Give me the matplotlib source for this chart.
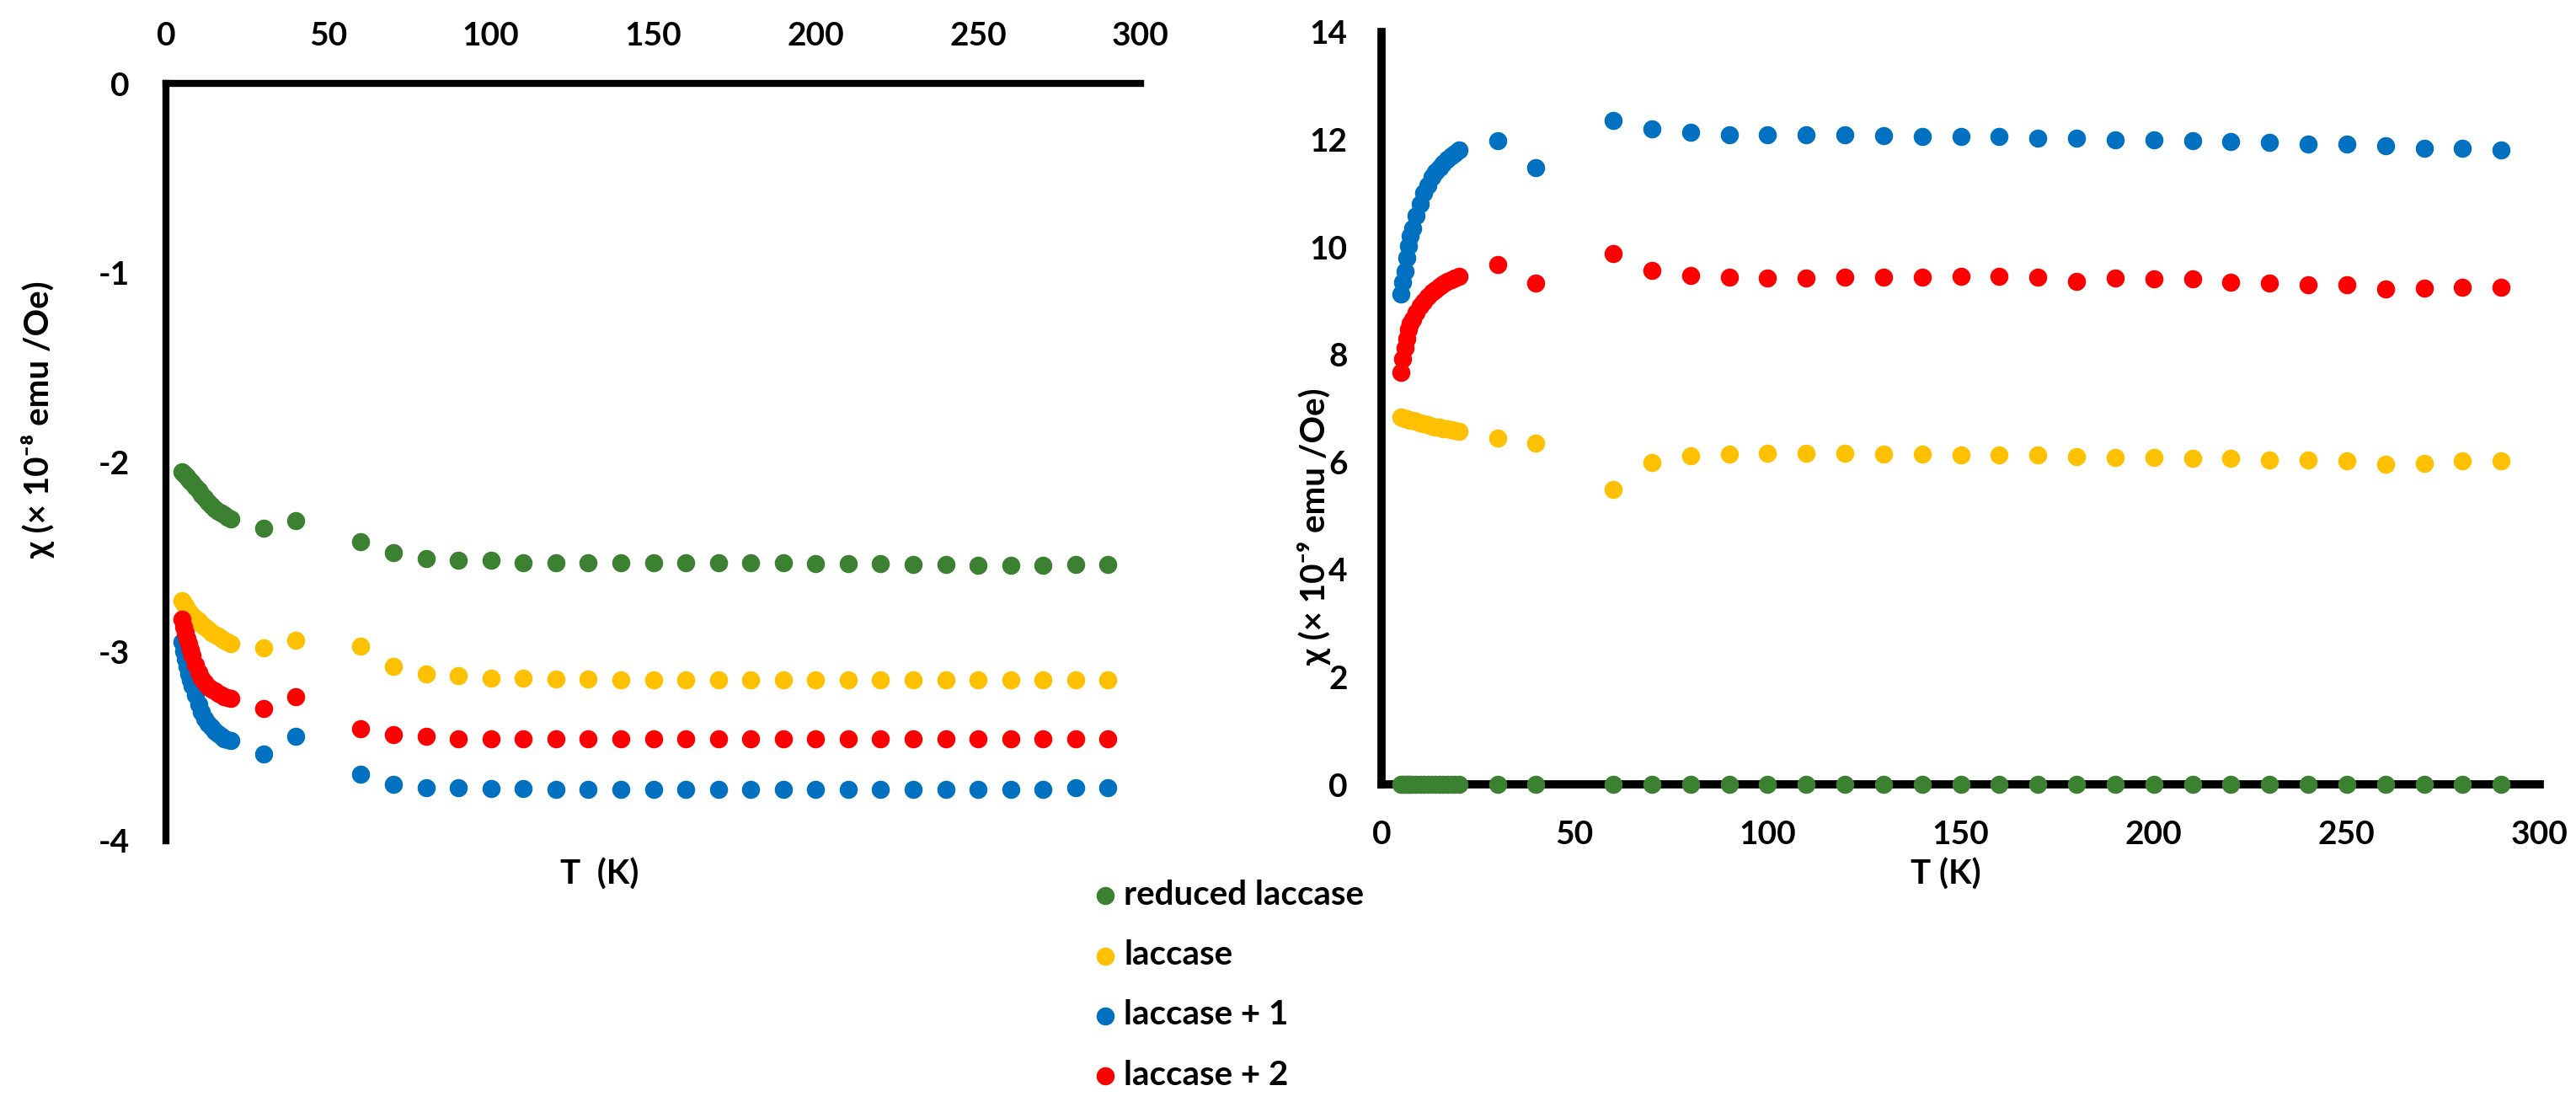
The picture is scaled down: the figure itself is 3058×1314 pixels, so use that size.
import matplotlib
matplotlib.use('Agg')
import matplotlib.pyplot as plt

plt.rcParams['font.family'] = ['Lato', 'DejaVu Sans']
plt.rcParams['font.weight'] = 'bold'
plt.rcParams['axes.unicode_minus'] = False

# temperatures (K): dense sweep 5-20 K, then 30, 40, 60 ... 290
T = [5, 5.5, 6, 6.5, 7, 7.5, 8, 9, 10, 11, 12, 13, 14, 15, 16, 17, 18, 19, 20,
     30, 40,
     60, 70, 80, 90, 100, 110, 120, 130, 140, 150, 160, 170, 180, 190,
     200, 210, 220, 230, 240, 250, 260, 270, 280, 290]

labels = ['reduced laccase', 'laccase', 'laccase + 1', 'laccase + 2']
colors = ['#3C8031', '#FFC000', '#0070C0', '#FF0000']

# left panel, chi in 1e-8 emu/Oe
reduced_L = [-2.05, -2.06, -2.07, -2.08, -2.09, -2.10, -2.11, -2.13, -2.15, -2.17,
             -2.19, -2.21, -2.23, -2.245, -2.26, -2.27, -2.28, -2.29, -2.30,
             -2.35, -2.31,
             -2.42, -2.48, -2.51, -2.52, -2.52, -2.53, -2.53, -2.53, -2.53, -2.53,
             -2.53, -2.53, -2.53, -2.53, -2.535, -2.535, -2.535, -2.54, -2.54,
             -2.545, -2.545, -2.545, -2.54, -2.54]
laccase_L = [-2.73, -2.745, -2.76, -2.775, -2.79, -2.80, -2.81, -2.825, -2.84, -2.855,
             -2.87, -2.885, -2.90, -2.91, -2.92, -2.93, -2.94, -2.95, -2.96,
             -2.98, -2.94,
             -2.97, -3.08, -3.12, -3.13, -3.14, -3.14, -3.145, -3.145, -3.15, -3.15,
             -3.15, -3.15, -3.15, -3.15, -3.15, -3.15, -3.15, -3.15, -3.15,
             -3.15, -3.15, -3.15, -3.15, -3.15]
plus1_L = [-2.95, -3.00, -3.04, -3.08, -3.12, -3.15, -3.18, -3.23, -3.28, -3.32,
           -3.355, -3.38, -3.40, -3.42, -3.435, -3.45, -3.46, -3.465, -3.47,
           -3.54, -3.45,
           -3.65, -3.70, -3.72, -3.72, -3.725, -3.725, -3.73, -3.73, -3.73, -3.73,
           -3.73, -3.73, -3.73, -3.73, -3.73, -3.73, -3.73, -3.73, -3.73,
           -3.73, -3.73, -3.73, -3.72, -3.72]
plus2_L = [-2.83, -2.87, -2.90, -2.93, -2.96, -2.99, -3.02, -3.07, -3.11, -3.14,
           -3.165, -3.185, -3.20, -3.21, -3.22, -3.23, -3.24, -3.245, -3.25,
           -3.30, -3.24,
           -3.41, -3.44, -3.45, -3.46, -3.46, -3.46, -3.46, -3.46, -3.46, -3.46,
           -3.46, -3.46, -3.46, -3.46, -3.46, -3.46, -3.46, -3.46, -3.46,
           -3.46, -3.46, -3.46, -3.46, -3.46]

# right panel, chi in 1e-9 emu/Oe
reduced_R = [0, 0, 0, 0, 0, 0, 0, 0, 0, 0, 0, 0, 0, 0, 0, 0, 0, 0, 0,
             0, 0,
             0, 0, 0, 0, 0, 0, 0, 0, 0, 0, 0, 0, 0, 0, 0, 0, 0, 0, 0,
             0, 0, 0, 0, 0]
laccase_R = [6.83, 6.82, 6.81, 6.80, 6.79, 6.78, 6.77, 6.75, 6.73, 6.71,
             6.69, 6.67, 6.65, 6.64, 6.62, 6.61, 6.60, 6.58, 6.57,
             6.44, 6.35,
             5.49, 5.99, 6.12, 6.14, 6.16, 6.16, 6.16, 6.14, 6.14, 6.13,
             6.13, 6.13, 6.10, 6.09, 6.09, 6.07, 6.06, 6.04, 6.04,
             6.02, 5.96, 5.97, 6.02, 6.02]
plus1_R = [9.12, 9.35, 9.55, 9.80, 10.02, 10.20, 10.35, 10.58, 10.80, 11.00,
           11.15, 11.30, 11.40, 11.48, 11.56, 11.63, 11.69, 11.75, 11.80,
           11.97, 11.47,
           12.36, 12.20, 12.13, 12.09, 12.08, 12.08, 12.08, 12.07, 12.06, 12.05,
           12.05, 12.03, 12.03, 12.00, 11.99, 11.98, 11.96, 11.95, 11.92,
           11.92, 11.89, 11.84, 11.84, 11.80]
plus2_R = [7.67, 7.92, 8.12, 8.30, 8.46, 8.58, 8.66, 8.78, 8.90, 8.99,
           9.07, 9.15, 9.21, 9.27, 9.32, 9.36, 9.39, 9.42, 9.45,
           9.67, 9.33,
           9.88, 9.56, 9.47, 9.44, 9.42, 9.42, 9.44, 9.44, 9.44, 9.45,
           9.45, 9.44, 9.36, 9.42, 9.40, 9.40, 9.34, 9.33, 9.30,
           9.30, 9.22, 9.24, 9.25, 9.25]

W, H = 3058, 1314
fig = plt.figure(figsize=(W / 100, H / 100), dpi=100)


def fx(px):
    return px / W


def fy(py):
    return 1 - py / H


ax1 = fig.add_axes([fx(197), fy(998), (1354 - 197) / W, (998 - 99) / H])
ax2 = fig.add_axes([fx(1640), fy(931), (3015 - 1640) / W, (931 - 38) / H])

msize = 240
handles = []
for ys, c in zip([reduced_L, laccase_L, plus1_L, plus2_L], colors):
    ax1.scatter(T, ys, s=msize, color=c, linewidths=0, zorder=3, clip_on=False)
for ys, c in zip([reduced_R, laccase_R, plus1_R, plus2_R], colors):
    h = ax2.scatter(T, ys, s=msize, color=c, linewidths=0, zorder=3, clip_on=False)
    handles.append(h)

# left panel: x axis on top, y from -4 to 0
ax1.set_xlim(0, 300)
ax1.set_ylim(-4, 0)
ax1.set_xticks(range(0, 301, 50))
ax1.set_yticks([-4, -3, -2, -1, 0])
ax1.xaxis.set_ticks_position('top')
for s in ['bottom', 'right']:
    ax1.spines[s].set_visible(False)
for s in ['top', 'left']:
    ax1.spines[s].set_linewidth(6)
ax1.tick_params(axis='both', length=0, labelsize=28)
ax1.tick_params(axis='x', pad=28)
ax1.tick_params(axis='y', pad=31)

# right panel
ax2.set_xlim(0, 300)
ax2.set_ylim(0, 14)
ax2.set_xticks(range(0, 301, 50))
ax2.set_yticks(range(0, 15, 2))
for s in ['top', 'right']:
    ax2.spines[s].set_visible(False)
for s in ['bottom', 'left']:
    ax2.spines[s].set_linewidth(7)
ax2.tick_params(axis='both', length=0, labelsize=28)
ax2.tick_params(axis='x', pad=30)
ax2.tick_params(axis='y', pad=29)

for ax in (ax1, ax2):
    ax.set_facecolor('none')

fig.text(fx(45), fy(498), 'χ (× 10⁻⁸ emu /Oe)', rotation=90,
         ha='center', va='center', fontsize=29)
fig.text(fx(1560), fy(625), 'χ (× 10⁻⁹ emu /Oe)', rotation=90,
         ha='center', va='center', fontsize=29)
fig.text(fx(712), fy(1038), 'T  (K)', ha='center', va='center', fontsize=29)
fig.text(fx(2310), fy(1038), 'T (K)', ha='center', va='center', fontsize=29)

fig.legend(handles, labels, loc='upper left',
           bbox_to_anchor=(fx(1300), fy(1044)), frameon=False,
           fontsize=29, scatterpoints=1, handlelength=0.6,
           handletextpad=0.25, labelspacing=0.85, borderpad=0,
           borderaxespad=0)

fig.savefig('out.png', dpi=100)
